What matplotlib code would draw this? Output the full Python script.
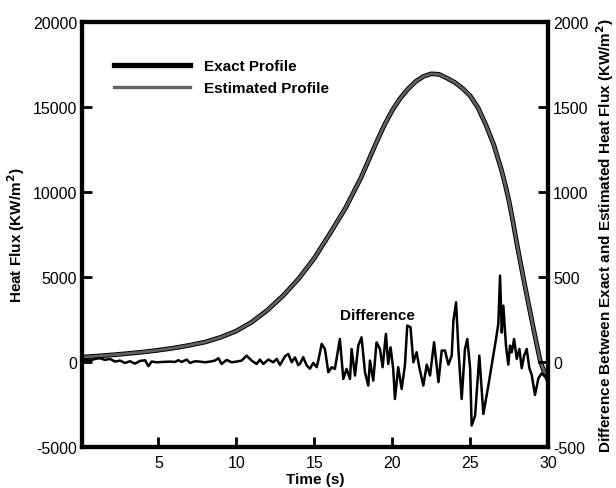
import matplotlib
matplotlib.use("Agg")
import matplotlib.pyplot as plt

plt.rcParams["font.family"] = ["Liberation Sans", "DejaVu Sans"]
plt.rcParams["axes.unicode_minus"] = False

# Heat flux profile (KW/m^2)
time_s = [0, 1, 2, 3, 4, 5, 6, 7, 8, 9, 10, 11, 12, 13, 14, 15, 16, 17, 18,
          18.5, 19, 19.5, 20, 20.5, 21, 21.5, 22, 22.5, 23, 23.5, 24, 24.5,
          25, 25.5, 26, 26.5, 27, 27.25, 27.5, 27.75, 28, 28.25, 28.5, 28.75,
          29, 29.25, 29.5, 29.75, 30]
exact_flux = [280, 340, 410, 490, 580, 690, 820, 980, 1170, 1450, 1820, 2350,
              3050, 3900, 4900, 6100, 7550, 9050, 10850, 11900, 12950, 13950,
              14800, 15500, 16050, 16500, 16800, 16950, 16920, 16700, 16450,
              16100, 15650, 14950, 13950, 12800, 11300, 10400, 9400, 8200,
              6900, 5700, 4500, 3350, 2200, 1080, 0, -600, -1100]
estimated_flux = exact_flux

# Difference between exact and estimated (right axis)
t_diff = [0.0, 0.3, 0.62, 0.94, 1.26, 1.58, 1.9, 2.22, 2.54, 2.86, 3.18, 3.5,
          3.83, 4.15, 4.36, 4.57, 4.9, 5.32, 5.75, 6.07, 6.28, 6.5, 6.82,
          7.03, 7.35, 7.67, 7.99, 8.31, 8.63, 8.85, 9.06, 9.38, 9.7, 10.02,
          10.34, 10.66, 10.98, 11.3, 11.51, 11.73, 12.05, 12.37, 12.59, 12.8,
          13.12, 13.33, 13.55, 13.76, 13.97, 14.08, 14.29, 14.51, 14.72,
          14.93, 15.15, 15.26, 15.47, 15.68, 15.9, 16.11, 16.32, 16.64, 16.86,
          17.07, 17.29, 17.39, 17.61, 17.82, 18.03, 18.25, 18.46, 18.57,
          18.78, 18.99, 19.21, 19.38, 19.59, 19.74, 19.89, 20.06, 20.17,
          20.38, 20.6, 20.81, 20.96, 21.17, 21.35, 21.56, 21.73, 21.99, 22.21,
          22.42, 22.68, 22.96, 23.17, 23.38, 23.6, 23.81, 23.92, 24.09, 24.24,
          24.45, 24.66, 24.81, 24.99, 25.09, 25.31, 25.58, 25.84, 26.16,
          26.44, 26.65, 26.8, 26.91, 27.02, 27.12, 27.29, 27.44, 27.55, 27.66,
          27.81, 27.98, 28.15, 28.3, 28.45, 28.62, 28.79, 28.94, 29.15, 29.37,
          29.58, 29.79, 29.98]
difference = [2, 14, 8, 18, 22, 12, 18, 2, 8, -6, 4, -10, 6, 10, -25, 2, -2,
              0, 2, 0, 10, 0, 14, -6, 4, 2, -2, 2, 8, 22, -12, 12, -2, 2, 8, 37,
              8, -12, 14, -12, 14, -2, 18, -18, 33, 47, -2, 27, -18, -12, 28,
              -20, -40, -6, -31, 10, 106, 76, -61, -31, -41, 135, -100, -41,
              -100, 76, -80, 96, 145, -61, -139, 8, -110, 115, 76, -31, 165,
              -12, 86, -41, -218, -31, -159, -20, 214, 204, -2, 57, -31, -139,
              -16, -80, 116, -119, 67, 67, -16, 37, 243, 351, 76, -218, 76, 135,
              -37, -374, -316, 37, -306, -139, 18, 135, 224, 508, 173, 331, 96,
              -16, 96, 57, 135, 18, 76, -37, 37, 76, -37, -76, -194, -96, -67,
              -86, -60]

fig = plt.figure(figsize=(6.16, 4.89), dpi=100)
ax = fig.add_axes([0.133, 0.084, 0.757, 0.869])
ax2 = ax.twinx()

ax.plot(time_s, exact_flux, color="black", lw=3.4, label="Exact Profile",
        zorder=3, solid_joinstyle="round")
ax.plot(time_s, estimated_flux, color="#606060", lw=2.0, label="Estimated Profile",
        zorder=4, solid_joinstyle="round")
ax2.plot(t_diff, difference, color="black", lw=1.8)

ax.set_xlim(0.1, 30)
ax.set_ylim(-5000, 20000)
ax2.set_ylim(-500, 2000)
ax.set_xticks([5, 10, 15, 20, 25, 30])
ax.set_yticks([-5000, 0, 5000, 10000, 15000, 20000])
ax2.set_yticks([-500, 0, 500, 1000, 1500, 2000])

for a in (ax, ax2):
    for s in a.spines.values():
        s.set_linewidth(3)
    a.tick_params(direction="in", length=7, width=2, labelsize=11.5)
ax.tick_params(axis="x", pad=6)

ax.set_xlabel("Time (s)", fontsize=11, fontweight="bold", labelpad=1)
ax.set_ylabel("Heat Flux (KW/m$^\\mathbf{2}$)", fontsize=11, fontweight="bold")
ax2.set_ylabel("Difference Between Exact and Estimated Heat Flux (KW/m$^\\mathbf{2}$)",
               fontsize=11, fontweight="bold", labelpad=4)

ax.text(19.05, 2760, "Difference", fontsize=11, fontweight="bold",
        ha="center", va="center")

leg = ax.legend(loc="upper left", bbox_to_anchor=(0.068, 0.912), frameon=False,
                handlelength=5.0, handletextpad=0.9, labelspacing=0.5,
                borderpad=0, borderaxespad=0,
                prop={"size": 11, "weight": "bold"})
leg.get_lines()[0].set_linewidth(3.8)
leg.get_lines()[1].set_linewidth(2.4)

fig.savefig("out.png", dpi=100)
